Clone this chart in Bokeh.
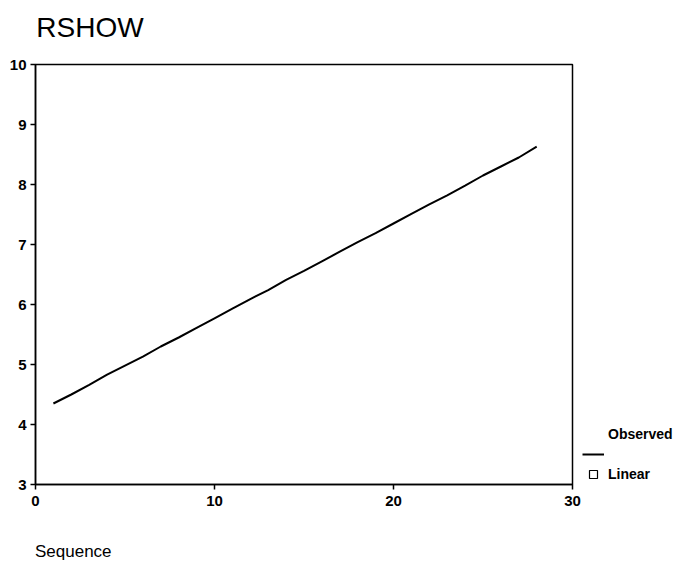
from bokeh.plotting import figure
from bokeh.models import Range1d, FixedTicker, Legend, LegendItem, LinearAxis
from bokeh.embed import file_html
from bokeh.resources import INLINE

# ---- data ----
sequence = list(range(1, 29))
observed = [4.35, 4.50, 4.66, 4.83, 4.98, 5.13, 5.30, 5.45, 5.61, 5.77,
            5.93, 6.09, 6.24, 6.41, 6.56, 6.72, 6.88, 7.04, 7.19, 7.35,
            7.51, 7.67, 7.82, 7.98, 8.15, 8.30, 8.45, 8.63]
x_ticks = [0, 10, 20, 30]
y_ticks = [3, 4, 5, 6, 7, 8, 9, 10]
title_text = "RSHOW"
x_label = "Sequence"
legend_labels = ["Observed", "Linear"]

FONT = "Liberation Sans"
NAN = float("nan")
NBSP = "\u00a0"

p = figure(frame_width=537, frame_height=420,
           min_border_left=35, min_border_top=64,
           min_border_right=114, min_border_bottom=80,
           x_range=Range1d(0, 30), y_range=Range1d(3, 10),
           output_backend="svg", toolbar_location=None)

obs_r = p.line(sequence, observed, line_color="black", line_width=2)
hdr_r = p.line([NAN], [NAN], line_alpha=0)
lin_r = p.scatter([NAN], [NAN], marker="square", size=6, fill_color="white",
                  line_color="black", line_width=1.2)

p.xgrid.visible = False
p.ygrid.visible = False
p.outline_line_color = "black"
p.outline_line_width = 1.5

for ax, ticks in ((p.xaxis[0], x_ticks), (p.yaxis[0], y_ticks)):
    ax.ticker = FixedTicker(ticks=ticks)
    ax.minor_tick_line_color = None
    ax.major_tick_in = 0
    ax.major_tick_out = 5
    ax.axis_line_width = 1.5
    ax.major_tick_line_width = 1.5
    ax.major_label_text_font = FONT
    ax.major_label_text_font_size = "15px"
    ax.major_label_text_font_style = "bold"
    ax.major_label_text_color = "black"
p.xaxis.major_label_standoff = 6
p.yaxis.major_label_standoff = 4

# x label: anchored at the axis start; the label is centred on that point,
# so non-breaking spaces in front push the visible word to start there
xa = p.xaxis[0]
xa.axis_label = NBSP * 16 + x_label
xa.axis_label_align = "start"
xa.axis_label_standoff = 33
xa.axis_label_text_font = FONT
xa.axis_label_text_font_size = "17px"
xa.axis_label_text_font_style = "normal"
xa.axis_label_text_color = "black"

# title, as the label of a bare top axis (same left anchoring)
ta = LinearAxis(ticker=FixedTicker(ticks=[]), axis_label=NBSP * 14 + title_text,
                axis_line_color=None, major_tick_line_color=None,
                minor_tick_line_color=None, major_tick_out=0,
                major_label_standoff=0)
ta.axis_label_align = "start"
ta.axis_label_standoff = 22
ta.axis_label_text_font = FONT
ta.axis_label_text_font_size = "28px"
ta.axis_label_text_font_style = "normal"
ta.axis_label_text_color = "black"
p.add_layout(ta, "above")

# legend
legend = Legend(items=[LegendItem(label=legend_labels[0], renderers=[hdr_r]),
                       LegendItem(label=" ", renderers=[obs_r]),
                       LegendItem(label=legend_labels[1], renderers=[lin_r])],
                location=(10, 0), orientation="vertical",
                glyph_width=22, glyph_height=20, label_height=20,
                label_standoff=4, spacing=0, padding=0, margin=0,
                border_line_color=None, background_fill_alpha=0,
                label_text_font=FONT, label_text_font_size="14px",
                label_text_font_style="bold", label_text_color="black")
p.add_layout(legend, "right")

open("out.html", "w").write(file_html(p, INLINE))
